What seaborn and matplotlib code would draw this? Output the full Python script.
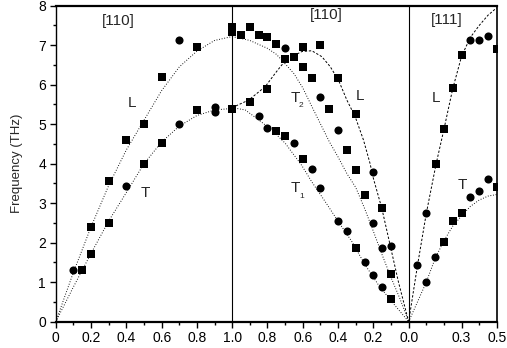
import matplotlib
matplotlib.use("Agg")
import matplotlib.pyplot as plt
import seaborn as sns
import pandas as pd

# ---- axis ticks (path coordinate -> label) ----
tick_pos = [0, 0.2, 0.4, 0.6, 0.8, 1.0, 1.2, 1.4, 1.6, 1.8, 2.0, 2.3, 2.5]
tick_labels = ["0", "0.2", "0.4", "0.6", "0.8", "1.0", "0.8", "0.6", "0.4", "0.2", "0.0", "0.3", "0.5"]
minor_pos = [i / 10 for i in range(0, 26)]
y_ticks = [0, 1, 2, 3, 4, 5, 6, 7, 8]

# ---- measured points ----
square_q = [0.147, 0.2, 0.2, 0.3, 0.3, 0.4, 0.5, 0.5, 0.6, 0.6, 0.8, 0.8, 1.0, 1.0, 1.0,
            1.05, 1.1, 1.15, 1.2, 1.25, 1.3, 1.35, 1.4, 1.5, 1.4, 1.45, 1.6, 1.2, 1.1, 1.55, 1.7,
            1.25, 1.3, 1.65, 1.4, 1.7, 1.75, 1.85, 1.7, 1.9, 1.9,
            2.155, 2.2, 2.25, 2.3, 2.5, 2.2, 2.25, 2.3, 2.5]
square_f = [1.31, 2.41, 1.71, 3.56, 2.51, 4.60, 5.0, 3.99, 4.53, 6.19, 6.95, 5.37, 5.38, 7.45, 7.33,
            7.27, 7.47, 7.27, 7.22, 7.02, 6.66, 6.70, 6.96, 7.01, 6.45, 6.18, 6.18, 5.90, 5.56, 5.38, 5.27,
            4.82, 4.71, 4.35, 4.12, 3.83, 3.21, 2.87, 1.87, 1.20, 0.57,
            3.98, 4.87, 5.91, 6.76, 6.90, 2.03, 2.56, 2.76, 3.42]
circle_q = [0.1, 0.4, 0.7, 0.7, 0.9, 0.9,
            1.3, 1.15, 1.2, 1.35, 1.45, 1.5, 1.6, 1.8, 1.5, 1.6, 1.65, 1.8, 1.85, 1.9, 1.75, 1.8, 1.85,
            2.05, 2.1, 2.1, 2.15, 2.35, 2.4, 2.45, 2.35, 2.4, 2.45]
circle_f = [1.31, 3.43, 7.12, 5.0, 5.43, 5.31,
            6.93, 5.22, 4.91, 4.52, 3.87, 5.68, 4.85, 3.78, 3.38, 2.55, 2.30, 2.49, 1.86, 1.92, 1.52, 1.18, 0.87,
            1.43, 2.75, 1.0, 1.64, 7.13, 7.13, 7.24, 3.15, 3.31, 3.60]

# ---- calculated dispersion curves ----
l110a_q = [0, 0.1, 0.2, 0.3, 0.4, 0.5, 0.6, 0.7, 0.8, 0.9, 1.0]
l110a_f = [0, 1.25, 2.40, 3.45, 4.35, 5.10, 5.85, 6.45, 6.85, 7.12, 7.22]
t110a_q = [0, 0.1, 0.2, 0.3, 0.4, 0.5, 0.6, 0.7, 0.8, 0.9, 1.0]
t110a_f = [0, 0.88, 1.73, 2.55, 3.27, 4.0, 4.55, 4.95, 5.22, 5.36, 5.40]
t2_q = [1.0, 1.1, 1.2, 1.25, 1.29, 1.35, 1.4, 1.45, 1.5, 1.55, 1.6, 1.65, 1.7, 1.75, 1.8, 1.85, 1.9, 1.95, 2.0]
t2_f = [7.22, 7.12, 6.92, 6.77, 6.58, 6.28, 5.92, 5.46, 5.01, 4.56, 4.17, 3.75, 3.40, 2.87, 2.29, 1.69, 1.12, 0.59, 0]
l110b_q = [1.0, 1.093, 1.187, 1.244, 1.281, 1.338, 1.395, 1.451, 1.508, 1.555, 1.602, 1.65, 1.697,
           1.744, 1.781, 1.8, 1.848, 1.895, 1.942, 2.0]
l110b_f = [5.42, 5.61, 5.95, 6.29, 6.50, 6.71, 6.84, 6.86, 6.71, 6.46, 6.12, 5.61, 5.19,
           4.60, 4.01, 3.63, 2.87, 1.94, 1.01, 0]
t1_q = [1.0, 1.074, 1.15, 1.225, 1.3, 1.357, 1.395, 1.451, 1.527, 1.602, 1.678, 1.753, 1.829, 1.904, 2.0]
t1_f = [5.42, 5.36, 5.11, 4.85, 4.52, 4.18, 3.95, 3.54, 3.04, 2.53, 2.03, 1.44, 0.93, 0.51, 0]
l111_q = [2.0, 2.05, 2.1, 2.155, 2.2, 2.25, 2.3, 2.35, 2.4, 2.45, 2.5]
l111_f = [0, 1.42, 2.74, 3.98, 4.87, 5.90, 6.72, 7.20, 7.50, 7.76, 7.95]
t111_q = [2.0, 2.05, 2.1, 2.15, 2.2, 2.25, 2.3, 2.35, 2.4, 2.45, 2.5]
t111_f = [0, 0.5, 1.0, 1.6, 2.05, 2.42, 2.68, 2.92, 3.08, 3.18, 3.22]

sns.set_style("ticks")
plt.rcParams["font.family"] = ["Liberation Sans", "DejaVu Sans"]

fig = plt.figure(figsize=(5.07, 3.48), dpi=100)
ax = fig.add_axes([0.11, 0.0756, 0.87, 0.908])

dotted = (0, (0.9, 1.8))
dashed = (0, (2.4, 1.8))
curves = [
    (l110a_q, l110a_f, dotted),
    (t110a_q, t110a_f, dotted),
    (t2_q, t2_f, dotted),
    (l110b_q, l110b_f, dashed),
    (t1_q, t1_f, dotted),
    (l111_q, l111_f, dashed),
    (t111_q, t111_f, dotted),
]
for q, f, ls in curves:
    sns.lineplot(x=q, y=f, sort=False, estimator=None, color="black",
                 linewidth=0.7, linestyle=ls, ax=ax)

sns.scatterplot(x=square_q, y=square_f, marker="s", color="black", s=26,
                linewidth=0, ax=ax, zorder=5)
sns.scatterplot(x=circle_q, y=circle_f, marker="o", color="black", s=34,
                linewidth=0, ax=ax, zorder=5)

ax.axvline(1.0, color="black", linewidth=0.8)
ax.axvline(2.0, color="black", linewidth=0.8)

ax.set_xlim(0, 2.5)
ax.set_ylim(0, 8)
ax.set_xticks(tick_pos)
ax.set_xticklabels(tick_labels)
ax.set_xticks(minor_pos, minor=True)
ax.set_yticks(y_ticks)
ax.set_yticks([i + 0.5 for i in range(8)], minor=True)
ax.tick_params(axis="both", which="major", direction="out", length=4, width=1.0,
               labelsize=10, color="black", labelcolor="black", pad=3)
ax.tick_params(axis="both", which="minor", direction="out", length=2.5, width=1.0, color="black")
ax.set_ylabel("Frequency (THz)", fontsize=9.5, labelpad=11)
ax.set_xlabel("")

for side in ["left", "right", "top", "bottom"]:
    ax.spines[side].set_visible(True)
    ax.spines[side].set_color("black")
ax.spines["top"].set_linewidth(1.6)
ax.spines["bottom"].set_linewidth(1.6)
ax.spines["left"].set_linewidth(1.0)
ax.spines["right"].set_linewidth(1.2)

fs = 11
ax.text(0.355, 7.62, "[110]", fontsize=fs, ha="center", va="center")
ax.text(1.535, 7.77, "[110]", fontsize=fs, ha="center", va="center")
ax.text(2.214, 7.64, "[111]", fontsize=fs, ha="center", va="center")
ax.text(0.434, 5.53, "L", fontsize=fs, ha="center", va="center")
ax.text(0.507, 3.25, "T", fontsize=fs, ha="center", va="center")
ax.text(1.725, 5.71, "L", fontsize=fs, ha="center", va="center")
ax.text(2.157, 5.66, "L", fontsize=fs, ha="center", va="center")
ax.text(2.302, 3.46, "T", fontsize=fs, ha="center", va="center")
ax.text(1.357, 5.66, "T", fontsize=fs, ha="center", va="center")
ax.text(1.392, 5.47, "2", fontsize=6, ha="center", va="center")
ax.text(1.357, 3.38, "T", fontsize=fs, ha="center", va="center")
ax.text(1.394, 3.17, "1", fontsize=6, ha="center", va="center")

fig.savefig("out.png", dpi=100)
